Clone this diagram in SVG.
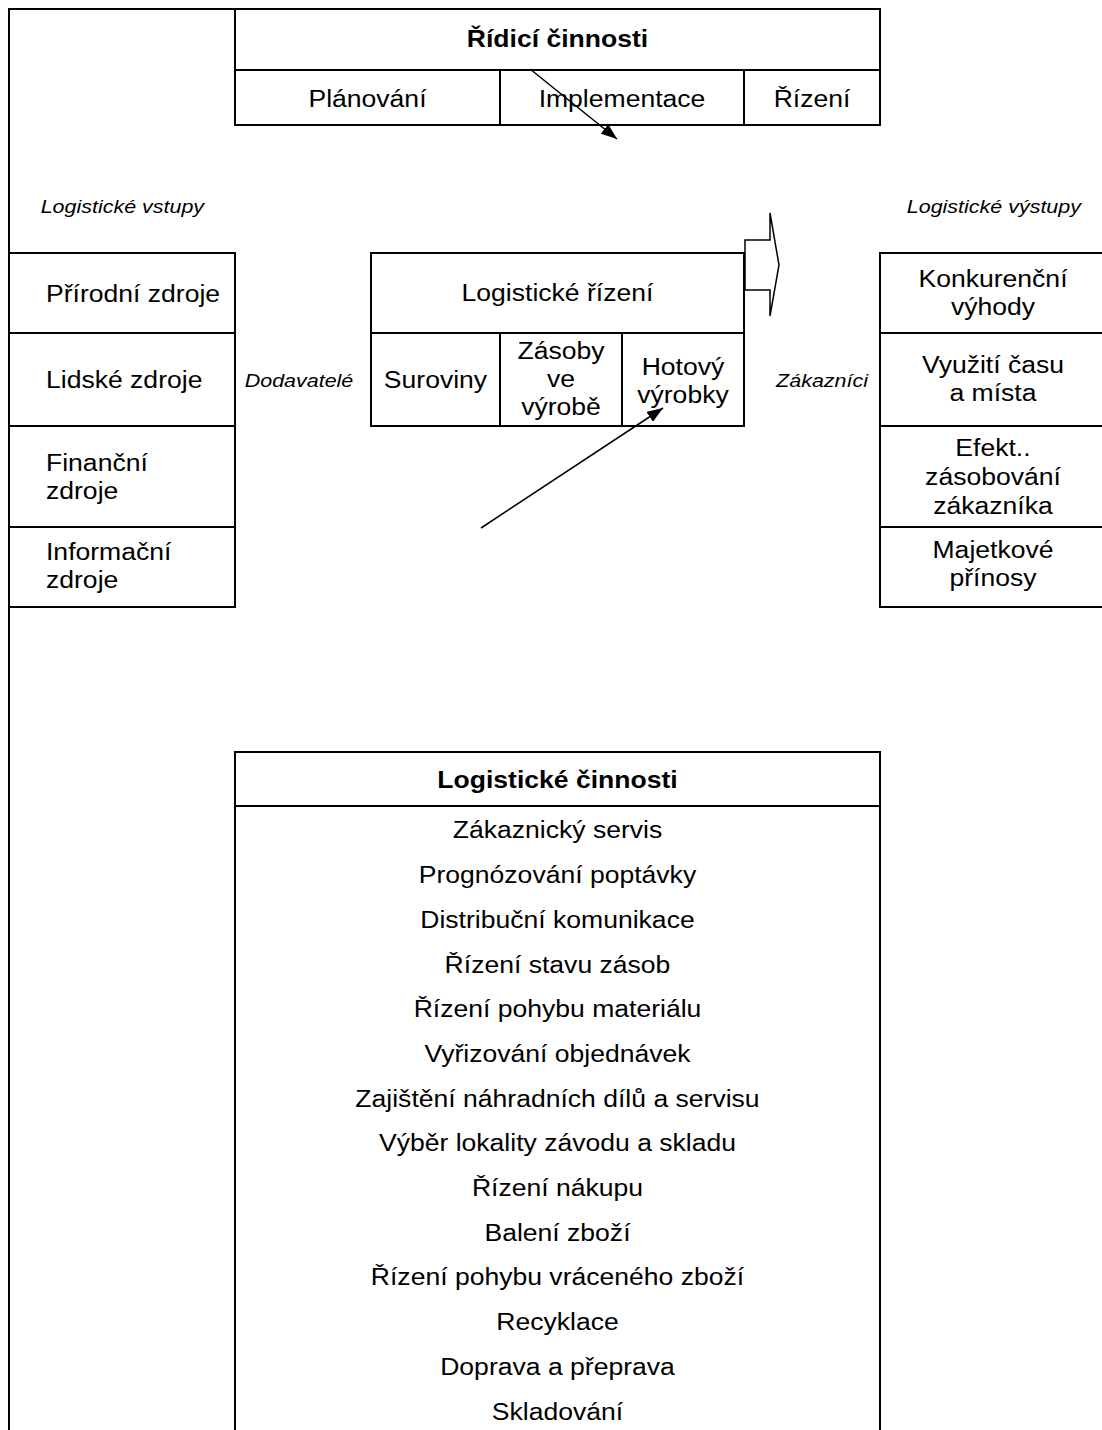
<svg xmlns="http://www.w3.org/2000/svg" width="1102" height="1430" viewBox="0 0 1102 1430">
  <style>
    .box { fill: none; stroke: #000; stroke-width: 2; }
    .ln { stroke: #000; stroke-width: 2; fill: none; }
    .conn { stroke: #000; stroke-width: 1.5; fill: none; }
    text { font-family: "Liberation Sans", Arial, sans-serif; fill: #000;
           transform-box: fill-box; transform: scaleX(1.13); }
    .c { font-size: 23.5px; text-anchor: middle; transform-origin: center; }
    .l { font-size: 23.5px; text-anchor: start; transform-origin: left center; }
    .b { font-weight: bold; }
    .i { font-size: 19px; font-style: italic; text-anchor: middle; transform-origin: center; }
  </style>
  <defs>
    <marker id="head" markerUnits="userSpaceOnUse" markerWidth="16" markerHeight="12" refX="16" refY="6" orient="auto">
      <path d="M0,0 L16,6 L0,12 z" fill="#000"/>
    </marker>
  </defs>
  <rect width="1102" height="1430" fill="#fff"/>

  <!-- outer frame -->
  <g id="frame">
    <path class="ln" d="M9,1430 L9,9 L235,9"/>
  </g>

  <!-- control activities -->
  <g id="ridici-cinnosti">
    <rect class="box" x="235" y="9" width="645" height="116"/>
    <line class="ln" x1="235" y1="70" x2="880" y2="70"/>
    <line class="ln" x1="500" y1="70" x2="500" y2="125"/>
    <line class="ln" x1="744" y1="70" x2="744" y2="125"/>
    <text class="c b" x="557.5" y="47">Řídicí činnosti</text>
    <text class="c" x="367.5" y="107">Plánování</text>
    <text class="c" x="622" y="107">Implementace</text>
    <text class="c" x="812" y="107">Řízení</text>
  </g>

  <!-- side labels -->
  <g id="labels">
    <text class="i" x="122.5" y="213">Logistické vstupy</text>
    <text class="i" x="994" y="213">Logistické výstupy</text>
    <text class="i" x="299" y="387">Dodavatelé</text>
    <text class="i" x="822" y="387">Zákazníci</text>
  </g>

  <!-- inputs -->
  <g id="vstupy">
    <rect class="box" x="9" y="253" width="226" height="354"/>
    <line class="ln" x1="9" y1="333" x2="235" y2="333"/>
    <line class="ln" x1="9" y1="426" x2="235" y2="426"/>
    <line class="ln" x1="9" y1="527" x2="235" y2="527"/>
    <text class="l" x="46" y="302">Přírodní zdroje</text>
    <text class="l" x="46" y="388">Lidské zdroje</text>
    <text class="l" x="46" y="471">Finanční</text>
    <text class="l" x="46" y="499">zdroje</text>
    <text class="l" x="46" y="560">Informační</text>
    <text class="l" x="46" y="588">zdroje</text>
  </g>

  <!-- logistics management -->
  <g id="logisticke-rizeni">
    <rect class="box" x="371" y="253" width="373" height="173"/>
    <line class="ln" x1="371" y1="333" x2="744" y2="333"/>
    <line class="ln" x1="500" y1="333" x2="500" y2="426"/>
    <line class="ln" x1="622" y1="333" x2="622" y2="426"/>
    <text class="c" x="557.5" y="301">Logistické řízení</text>
    <text class="c" x="435.5" y="388">Suroviny</text>
    <text class="c" x="561" y="359">Zásoby</text>
    <text class="c" x="561" y="387">ve</text>
    <text class="c" x="561" y="415">výrobě</text>
    <text class="c" x="683" y="375">Hotový</text>
    <text class="c" x="683" y="403">výrobky</text>
  </g>

  <!-- outputs -->
  <g id="vystupy">
    <path class="ln" d="M1104,253 L880,253 L880,607 L1104,607"/>
    <line class="ln" x1="880" y1="333" x2="1104" y2="333"/>
    <line class="ln" x1="880" y1="426" x2="1104" y2="426"/>
    <line class="ln" x1="880" y1="527" x2="1104" y2="527"/>
    <text class="c" x="993" y="287">Konkurenční</text>
    <text class="c" x="993" y="315">výhody</text>
    <text class="c" x="993" y="373">Využití času</text>
    <text class="c" x="993" y="401">a místa</text>
    <text class="c" x="993" y="456">Efekt..</text>
    <text class="c" x="993" y="485">zásobování</text>
    <text class="c" x="993" y="514">zákazníka</text>
    <text class="c" x="993" y="558">Majetkové</text>
    <text class="c" x="993" y="586">přínosy</text>
  </g>

  <!-- logistics activities -->
  <g id="logisticke-cinnosti">
    <path class="ln" d="M235,1430 L235,752 L880,752 L880,1430"/>
    <line class="ln" x1="235" y1="806" x2="880" y2="806"/>
    <text class="c b" x="557.5" y="788">Logistické činnosti</text>
    <text class="c" x="557.5" y="838.5">Zákaznický servis</text>
    <text class="c" x="557.5" y="883.2">Prognózování poptávky</text>
    <text class="c" x="557.5" y="927.9">Distribuční komunikace</text>
    <text class="c" x="557.5" y="972.6">Řízení stavu zásob</text>
    <text class="c" x="557.5" y="1017.3">Řízení pohybu materiálu</text>
    <text class="c" x="557.5" y="1062">Vyřizování objednávek</text>
    <text class="c" x="557.5" y="1106.7">Zajištění náhradních dílů a servisu</text>
    <text class="c" x="557.5" y="1151.4">Výběr lokality závodu a skladu</text>
    <text class="c" x="557.5" y="1196.1">Řízení nákupu</text>
    <text class="c" x="557.5" y="1240.8">Balení zboží</text>
    <text class="c" x="557.5" y="1285.5">Řízení pohybu vráceného zboží</text>
    <text class="c" x="557.5" y="1330.2">Recyklace</text>
    <text class="c" x="557.5" y="1374.9">Doprava a přeprava</text>
    <text class="c" x="557.5" y="1419.6">Skladování</text>
  </g>

  <!-- connectors -->
  <g id="connectors">
    <line class="conn" x1="530" y1="69" x2="617" y2="139" marker-end="url(#head)"/>
    <line class="conn" x1="481" y1="528" x2="663" y2="408" marker-end="url(#head)"/>
    <polygon class="conn" fill="#fff" points="745,240 770,240 770,213 779,265 770,316 770,290 745,290"/>
  </g>
</svg>
